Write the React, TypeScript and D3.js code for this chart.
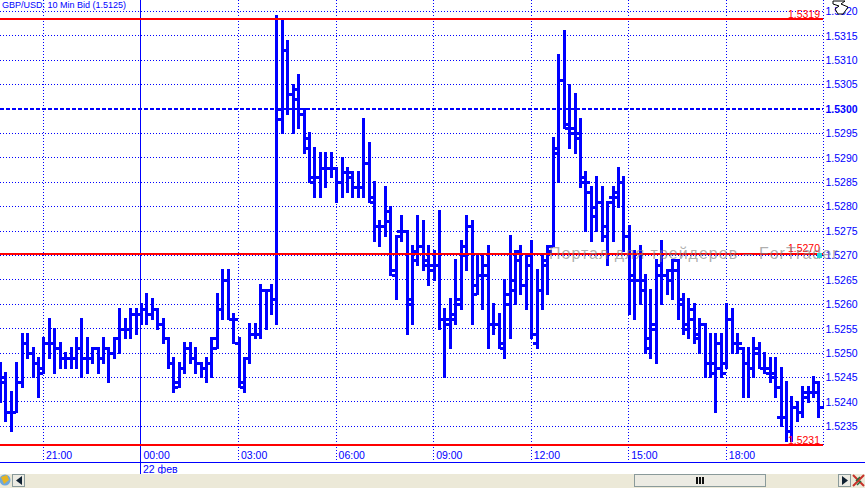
import { useEffect, useRef } from "react";
import * as d3 from "d3";

const W = 865;
const H = 488;
const BLUE = "#0000ff";
const RED = "#ff0000";

// everything below is in pips above 1.5200, bar 0 is 21:00, one bar = 10 min
const firstBar = -8;
const highs = [48,46,42,48,54,54,51,49,53,57,55,52,50,51,53,57,53,51,51,53,51,53,59,57,59,59,60,62,61,59,57,53,49,48,52,52,51,48,49,53,62,67,67,58,53,49,56,56,64,63,64,119,118,114,105,107,100,95,92,91,91,91,88,90,88,87,87,98,93,85,77,84,80,74,78,75,72,78,77,72,71,79,59,61,69,73,78,77,70,70,72,60,58,65,74,71,72,70,73,67,70,72,94,111,116,105,103,98,87,84,86,84,81,84,88,86,76,71,72,66,63,69,73,67,69,69,62,61,60,57,56,54,54,54,60,59,54,51,51,53,52,50,49,49,47,44,41,40,43,43,45,44,40];
const lows = [40,36,34,38,43,49,45,41,46,49,46,47,47,47,47,45,46,48,46,48,44,49,50,53,53,54,56,56,57,55,52,47,42,43,46,48,46,45,44,45,51,57,57,52,43,42,48,53,53,55,58,56,95,99,95,96,91,85,82,82,84,86,81,82,83,82,82,82,81,73,72,74,66,61,73,54,56,68,67,64,65,55,45,51,56,59,67,56,62,59,51,54,51,49,53,60,62,59,53,51,59,62,72,85,96,92,91,84,75,73,75,73,68,73,80,71,58,57,60,50,49,48,60,62,61,57,54,53,52,50,45,45,38,45,47,50,50,41,41,45,47,46,44,41,35,32,32,36,37,40,41,37,39];
const opens = [46,44,38,38,44,52,50,48,46,52,52,51,49,49,49,51,49,49,51,49,51,50,53,55,55,58,58,59,58,59,56,53,48,44,47,51,49,48,47,48,51,59,65,57,52,43,49,54,54,63,63,61,98,112,103,102,99,94,85,86,88,88,88,85,87,87,84,84,89,81,76,76,77,66,75,75,61,69,72,68,68,68,57,56,57,61,70,76,64,66,68,56,56,51,60,63,71,64,70,52,63,69,72,91,106,96,95,94,86,83,80,81,74,82,83,85,74,65,65,65,51,55,68,66,67,69,60,56,57,54,56,48,48,52,48,57,52,51,48,47,51,47,46,45,37,37,34,39,38,42,42,44,39];
const closes = [45,38,38,44,52,50,48,47,52,52,51,49,49,49,51,49,49,51,49,51,50,53,55,55,58,58,59,58,59,56,53,48,43,47,51,49,48,47,48,53,59,65,57,57,44,49,54,54,63,63,61,100,112,103,104,99,92,86,86,88,88,88,85,87,86,84,84,89,82,76,76,79,67,74,75,60,71,72,69,67,68,57,57,58,60,72,76,62,66,66,56,56,52,62,65,69,64,68,54,63,68,71,92,106,97,96,95,85,85,78,81,76,81,82,85,74,66,65,63,53,56,66,66,65,67,61,55,59,53,56,48,46,47,46,57,52,52,48,47,50,47,47,46,43,37,34,39,38,41,42,42,39,39];

const priceTicks = [1.532,1.5315,1.531,1.5305,1.53,1.5295,1.529,1.5285,1.528,1.5275,1.527,1.5265,1.526,1.5255,1.525,1.5245,1.524,1.5235];
const timeTickBars = [0, 18, 36, 54, 72, 90, 108, 126];
const timeLabels = ["21:00", "00:00", "03:00", "06:00", "09:00", "12:00", "15:00", "18:00"];
const redLevels = [118.4, 70.2, 31.2];
const redLabels = ["1.5319", "1.5270", "1.5231"];

const toPrice = (p: number) => 1.52 + p / 10000;

export default function App() {
  const ref = useRef<SVGSVGElement>(null);

  useEffect(() => {
    const svg = d3.select(ref.current);
    svg.selectAll("*").remove();

    const right = 822.5;
    const x = d3.scaleLinear().domain([0, 144]).range([43.4, 43.4 + 144 * 5.42]);
    const y = d3.scaleLinear().domain([1.5235, 1.532]).range([426.3, 11.3]);
    const font = "'Liberation Sans', Arial, sans-serif";

    svg.append("rect").attr("width", W).attr("height", H).attr("fill", "#fff");

    svg
      .append("clipPath")
      .attr("id", "plot-clip")
      .append("rect")
      .attr("width", 824)
      .attr("height", 462);

    /* grid */
    const grid = svg.append("g").attr("shape-rendering", "crispEdges");
    grid
      .selectAll(".h")
      .data(priceTicks.filter((d) => d !== 1.53))
      .join("line")
      .attr("x1", 0)
      .attr("x2", right)
      .attr("y1", (d) => Math.floor(y(d)) + 0.5)
      .attr("y2", (d) => Math.floor(y(d)) + 0.5)
      .attr("stroke", BLUE)
      .attr("stroke-dasharray", "1 2");

    grid
      .selectAll(".v")
      .data(timeTickBars.filter((d) => d !== 18))
      .join("line")
      .attr("x1", (d) => Math.floor(x(d)) + 0.5)
      .attr("x2", (d) => Math.floor(x(d)) + 0.5)
      .attr("y1", 0)
      .attr("y2", 462)
      .attr("stroke", BLUE)
      .attr("stroke-dasharray", "1 2");

    // right edge of the plot
    grid
      .append("line")
      .attr("x1", right + 0.5)
      .attr("x2", right + 0.5)
      .attr("y1", 0)
      .attr("y2", 447)
      .attr("stroke", BLUE)
      .attr("stroke-dasharray", "1 2");

    // midnight separator and axis line
    grid
      .append("line")
      .attr("x1", Math.floor(x(18)) + 0.5)
      .attr("x2", Math.floor(x(18)) + 0.5)
      .attr("y1", 0)
      .attr("y2", 474)
      .attr("stroke", BLUE);
    grid
      .append("line")
      .attr("x1", 0)
      .attr("x2", W)
      .attr("y1", 462.5)
      .attr("y2", 462.5)
      .attr("stroke", BLUE);

    // 1.5300 dashed level
    grid
      .append("line")
      .attr("x1", 0)
      .attr("x2", right)
      .attr("y1", y(1.53))
      .attr("y2", y(1.53))
      .attr("stroke", BLUE)
      .attr("stroke-width", 2)
      .attr("stroke-dasharray", "4 2");

    /* OHLC bars */
    const bars = highs.map((h, i) => ({
      i: i + firstBar,
      high: toPrice(h),
      low: toPrice(lows[i]),
      open: toPrice(opens[i]),
      close: toPrice(closes[i]),
    }));

    const plot = svg
      .append("g")
      .attr("shape-rendering", "crispEdges")
      .attr("clip-path", "url(#plot-clip)");
    const cx = (i: number) => Math.round(x(i));

    plot
      .selectAll(".stem")
      .data(bars)
      .join("rect")
      .attr("x", (d) => cx(d.i) - 1)
      .attr("width", 3)
      .attr("y", (d) => Math.round(y(d.high)) - 1)
      .attr("height", (d) => Math.round(y(d.low)) - Math.round(y(d.high)) + 2)
      .attr("fill", BLUE);
    plot
      .selectAll(".open")
      .data(bars)
      .join("rect")
      .attr("x", (d) => cx(d.i) - 4)
      .attr("width", 4)
      .attr("y", (d) => Math.round(y(d.open)) - 1)
      .attr("height", 3)
      .attr("fill", BLUE);
    plot
      .selectAll(".close")
      .data(bars)
      .join("rect")
      .attr("x", (d) => cx(d.i) + 1)
      .attr("width", 4)
      .attr("y", (d) => Math.round(y(d.close)) - 1)
      .attr("height", 3)
      .attr("fill", BLUE);

    /* red levels */
    svg
      .append("g")
      .attr("shape-rendering", "crispEdges")
      .selectAll("line")
      .data(redLevels)
      .join("line")
      .attr("x1", 0)
      .attr("x2", right)
      .attr("y1", (d) => Math.round(y(toPrice(d))))
      .attr("y2", (d) => Math.round(y(toPrice(d))))
      .attr("stroke", RED)
      .attr("stroke-width", 2);

    /* axes */
    const yAxis = d3
      .axisRight(y)
      .tickValues(priceTicks)
      .tickSize(0)
      .tickPadding(0)
      .tickFormat((d) => (+d).toFixed(4));
    const yG = svg.append("g").attr("transform", "translate(825.5,0)").call(yAxis);
    yG.select(".domain").remove();
    yG.selectAll("text")
      .attr("fill", BLUE)
      .style("font", `10.5px ${font}`)
      .style("font-weight", (d) => (d === 1.53 ? "bold" : "normal"));

    const xAxis = d3
      .axisBottom(x)
      .tickValues(timeTickBars)
      .tickSize(0)
      .tickPadding(0)
      .tickFormat((_, i) => timeLabels[i]);
    const xG = svg.append("g").attr("transform", "translate(0,452)").call(xAxis);
    xG.select(".domain").remove();
    xG.selectAll("text")
      .attr("fill", BLUE)
      .attr("text-anchor", "start")
      .attr("dx", 2)
      .style("font", `10.5px ${font}`);

    const label = (tx: number, ty: number, t: string, fill = BLUE, anchor = "start", size = 10.5) =>
      svg
        .append("text")
        .attr("x", tx)
        .attr("y", ty)
        .attr("fill", fill)
        .attr("text-anchor", anchor)
        .style("font", `${size}px ${font}`)
        .text(t);

    label(2, 8, "GBP/USD: 10 Min Bid (1.5125)", BLUE, "start", 9);
    label(143, 473, "22 фев");

    redLabels.forEach((t, i) => {
      const ty = [18, 252, 444][i];
      label(820, ty, t, RED, "end");
    });

    /* watermark */
    svg
      .append("text")
      .attr("x", 549)
      .attr("y", 259)
      .attr("fill", "#808080")
      .attr("fill-opacity", 0.65)
      .style("font", `16px ${font}`)
      .style("letter-spacing", "1px")
      .text("Портал для трейдеров – ForTrader");

    svg.append("rect").attr("x", 817).attr("y", 253).attr("width", 5).attr("height", 5).attr("fill", "#20d8d8");

    /* scrollbar strip */
    const strip = svg.append("g").attr("shape-rendering", "crispEdges");
    strip.append("rect").attr("y", 474).attr("width", W).attr("height", 14).attr("fill", "#ece9d8");
    const btn = (bx: number, bw: number) =>
      strip
        .append("rect")
        .attr("x", bx + 0.5)
        .attr("y", 474.5)
        .attr("width", bw)
        .attr("height", 12)
        .attr("rx", 1)
        .attr("fill", "#ecebe3")
        .attr("stroke", "#8a9a9a");
    btn(12, 12);
    btn(838, 12);
    btn(634, 131);
    svg.append("path").attr("d", "M22 476 L16 480.5 L22 485 Z").attr("fill", "#123");
    svg.append("path").attr("d", "M842 476 L848 480.5 L842 485 Z").attr("fill", "#123");
    strip
      .selectAll(".grip")
      .data([0, 1, 2])
      .join("rect")
      .attr("x", (d) => 696 + d * 3)
      .attr("y", 477)
      .attr("width", 2)
      .attr("height", 7)
      .attr("fill", "#111");

    // globe on the left, close cross on the right
    svg.append("circle").attr("cx", 5).attr("cy", 480).attr("r", 5.5).attr("fill", "#6fa8dc");
    svg.append("path").attr("d", "M1 477 L7 475 L9 480 L4 484 Z").attr("fill", "#e6b422");
    svg
      .append("path")
      .attr("d", "M853 475 L864 486 M864 475 L853 486")
      .attr("stroke", "#c8322a")
      .attr("stroke-width", 2);
    svg
      .append("path")
      .attr("d", "M856 481 L860 477 M857 485 L861 481")
      .attr("stroke", "#2a6a3a")
      .attr("stroke-width", 1.5);

    // mouse cursor left in the screenshot, top right
    svg
      .append("path")
      .attr("d", "M833 1 L845 1 L841 4 L848 7 L846 10 L843 14 L838 14 L835 9 L839 6 L833 4 Z")
      .attr("fill", "#fff")
      .attr("stroke", "#000");
  }, []);

  return (
    <svg
      ref={ref}
      width={W}
      height={H}
      style={{ position: "absolute", left: 0, top: 0, display: "block" }}
    />
  );
}
